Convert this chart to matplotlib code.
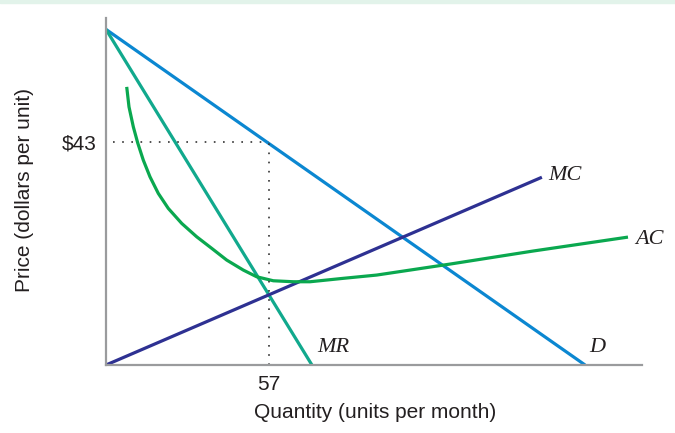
import matplotlib.pyplot as plt
from matplotlib.patches import Rectangle

# Values (quantity in units/month, price in dollars)
d_q = [0, 167.5]
d_p = [64.7, 0]
mr_q = [0, 72]
mr_p = [64.7, 0]
mc_q = [0, 152.4]
mc_p = [0, 36.2]
ac_q = [7.24, 8.04, 9.55, 11.08, 13.04, 15.38, 18.29, 21.78, 26.47, 31.71,
        36.96, 42.20, 48.01, 52.69, 58.50, 65.49, 71.33, 82.97, 94.65, 106.29,
        120.3, 149.3, 182.5]
ac_p = [53.62, 49.77, 45.92, 42.83, 39.50, 36.28, 33.08, 30.19, 27.30, 24.72,
        22.49, 20.23, 18.30, 17.01, 16.24, 16.05, 16.05, 16.71, 17.34, 18.30,
        19.46, 21.97, 24.66]
q_star = 57
p_star = 43

W, H = 675, 433
fig = plt.figure(figsize=(W / 100, H / 100), dpi=100)
fig.patches.append(Rectangle((0, 1 - 3 / H), 1, 3 / H, transform=fig.transFigure,
                             color='#e2f3ea', zorder=0))

# axes placed in pixel terms: origin at (106, 365), top at y=18, right at x=642
ax = fig.add_axes([106 / W, (H - 365) / H, 536 / W, 347 / H])
ax.set_xlim(0, 187.4)
ax.set_ylim(0, 66.9)
for s in ['top', 'right']:
    ax.spines[s].set_visible(False)
for s in ['left', 'bottom']:
    ax.spines[s].set_color('#9a9b9d')
    ax.spines[s].set_linewidth(1.6)

lw = 2.3
ax.plot(d_q, d_p, color='#0b87d1', lw=lw, solid_capstyle='butt')
ax.plot(mr_q, mr_p, color='#11a98d', lw=lw, solid_capstyle='butt')
ax.plot(mc_q, mc_p, color='#2e3192', lw=lw, solid_capstyle='butt')
ax.plot(ac_q, ac_p, color='#0aa84f', lw=lw, solid_capstyle='butt',
        solid_joinstyle='round')

# dotted guides
ax.plot([2.5, q_star], [p_star, p_star], color='#333333', lw=1.2, ls=(0, (1, 4.5)))
ax.plot([q_star, q_star], [0, p_star], color='#333333', lw=1.2, ls=(0, (1, 4.5)))

sans = 'Liberation Sans'
ax.set_xticks([q_star])
ax.set_xticklabels(['57'])
ax.set_yticks([p_star])
ax.set_yticklabels(['$43'])
ax.tick_params(length=0, labelsize=15, colors='#231f20')
ax.tick_params(axis='x', pad=7)
ax.tick_params(axis='y', pad=7)
for t in ax.get_xticklabels() + ax.get_yticklabels():
    t.set_fontfamily(sans)

fig.text(375 / W, 1 - 413 / H, 'Quantity (units per month)', ha='center', va='center',
         fontsize=15, family=sans, color='#231f20')
fig.text(25 / W, 1 - 190 / H, 'Price (dollars per unit)', ha='center', va='center',
         rotation=90, fontsize=15, family=sans, color='#231f20')

lab = dict(family='Liberation Serif', style='italic', fontsize=16, color='#231f20',
           va='center', ha='left')
ax.text(154.5, 36.5, 'MC', **lab)
ax.text(185.0, 24.2, 'AC', **lab)
ax.text(74.0, 3.3, 'MR', **lab)
ax.text(169.0, 3.3, 'D', **lab)
for t in ax.texts:
    t.set_clip_on(False)

fig.savefig('out.png', dpi=100)
